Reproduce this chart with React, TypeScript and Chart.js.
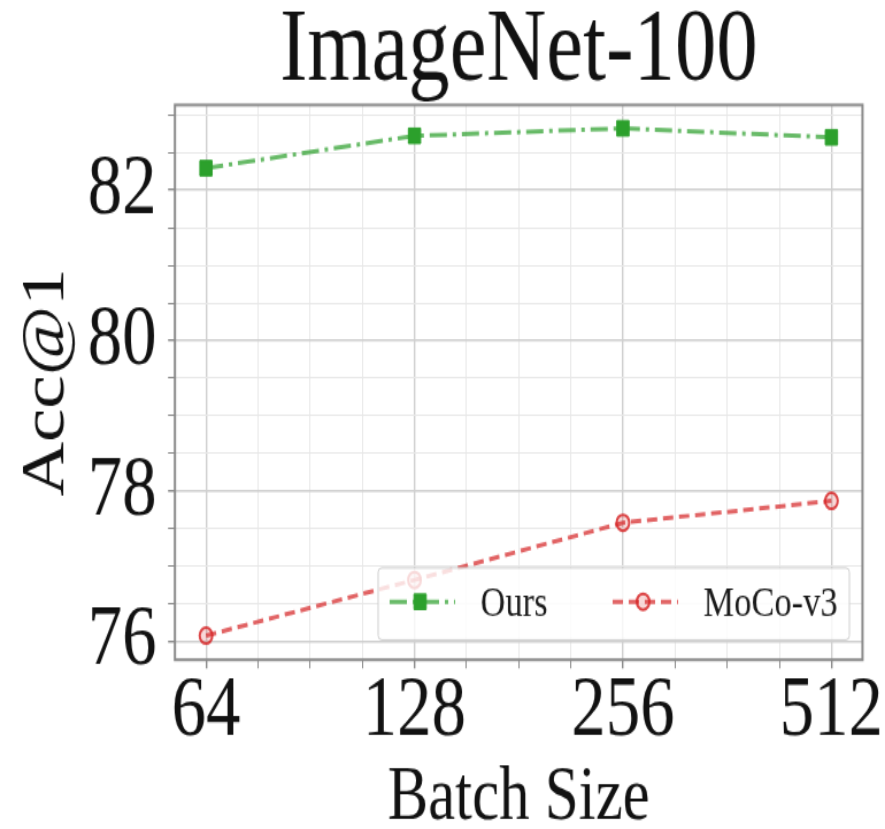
import React, { useEffect, useRef } from 'react';
import { Chart, registerables } from 'chart.js';

Chart.register(...registerables);

// ---- data ----
const batchSizes = [64, 128, 256, 512];
const oursAcc = [82.29, 82.72, 82.82, 82.7];
const mocoAcc = [76.08, 76.82, 77.58, 77.87];
const yMajorTicks = [76, 78, 80, 82];
const seriesLabels = ['Ours', 'MoCo-v3'];
const titleText = 'ImageNet-100';
const xTitleText = 'Batch Size';
const yTitleText = 'Acc@1';

// axis ranges (log2 of batch size on x)
const xMin = 5.851;
const xMax = 9.149;
const yMin = 75.76;
const yMax = 83.13;

// ---- layout (internal canvas, then stretched like the reference) ----
const W = 770;
const H = 572;
const SX = 885 / W;
const SY = 829 / H;
const FONT = '"Liberation Serif", "Times New Roman", serif';

const GREEN = '#2ca02c';
const GREEN_LINE = 'rgba(44,160,44,0.72)';
const RED = 'rgba(214,39,40,0.85)';
const RED_LINE = 'rgba(214,39,40,0.72)';
const RED_FILL = 'rgba(214,39,40,0.18)';
const GREEN_DASH = [15, 5, 3, 5];
const RED_DASH = [9, 5];

const framePlugin = {
  id: 'frame',
  beforeDatasetsDraw(chart: any) {
    const { ctx, chartArea: a } = chart;
    ctx.save();
    ctx.strokeStyle = '#8a8a8a';
    ctx.lineWidth = 2;
    ctx.strokeRect(a.left, a.top, a.right - a.left, a.bottom - a.top);
    ctx.restore();
  },
};

const legendPlugin = {
  id: 'insideLegend',
  afterDatasetsDraw(chart: any) {
    const { ctx, chartArea: a } = chart;
    const bw = 410;
    const bh = 49.5;
    const bx = a.right - 11.4 - bw;
    const by = a.bottom - 13.8 - bh;
    ctx.save();
    ctx.beginPath();
    const r = 3;
    ctx.moveTo(bx + r, by);
    ctx.arcTo(bx + bw, by, bx + bw, by + bh, r);
    ctx.arcTo(bx + bw, by + bh, bx, by + bh, r);
    ctx.arcTo(bx, by + bh, bx, by, r);
    ctx.arcTo(bx, by, bx + bw, by, r);
    ctx.closePath();
    ctx.fillStyle = 'rgba(255,255,255,0.8)';
    ctx.fill();
    ctx.strokeStyle = '#cfcfcf';
    ctx.lineWidth = 1;
    ctx.stroke();

    const cy = by + bh * 0.47;
    chart.data.datasets.forEach((ds: any, i: number) => {
      const x0 = bx + 10 + i * 194;
      const x1 = x0 + 57;
      ctx.save();
      ctx.strokeStyle = ds.borderColor;
      ctx.lineWidth = ds.borderWidth;
      ctx.setLineDash(ds.borderDash);
      ctx.beginPath();
      ctx.moveTo(x0, cy);
      ctx.lineTo(x1, cy);
      ctx.stroke();
      ctx.setLineDash([]);
      const mx = (x0 + x1) / 2 - 2;
      const pr = ds.pointRadius;
      ctx.fillStyle = ds.pointBackgroundColor;
      ctx.strokeStyle = ds.pointBorderColor;
      ctx.lineWidth = ds.pointBorderWidth;
      ctx.beginPath();
      if (ds.pointStyle === 'rect') {
        const s = pr * Math.SQRT1_2;
        ctx.rect(mx - s, cy - s, 2 * s, 2 * s);
      } else {
        ctx.arc(mx, cy, pr, 0, Math.PI * 2);
      }
      ctx.fill();
      ctx.stroke();
      ctx.restore();
      ctx.fillStyle = '#1a1a1a';
      ctx.font = `30px ${FONT}`;
      ctx.textBaseline = 'alphabetic';
      ctx.textAlign = 'left';
      ctx.fillText(ds.label, x1 + 22, cy + 9.8);
    });
    ctx.restore();
  },
};

export default function App() {
  const ref = useRef<HTMLCanvasElement>(null);

  useEffect(() => {
    document.body.style.margin = '0';
    const xs = batchSizes.map((b) => Math.log2(b));
    const chart = new Chart(ref.current as HTMLCanvasElement, {
      type: 'line',
      data: {
        datasets: [
          {
            label: seriesLabels[0],
            data: xs.map((x, i) => ({ x, y: oursAcc[i] })),
            borderColor: GREEN_LINE,
            borderWidth: 3,
            borderDash: GREEN_DASH,
            pointStyle: 'rect',
            pointRadius: 7.5,
            pointBackgroundColor: GREEN,
            pointBorderColor: GREEN,
            pointBorderWidth: 1,
            fill: false,
            tension: 0,
          },
          {
            label: seriesLabels[1],
            data: xs.map((x, i) => ({ x, y: mocoAcc[i] })),
            borderColor: RED_LINE,
            borderWidth: 3,
            borderDash: RED_DASH,
            pointStyle: 'circle',
            pointRadius: 5.5,
            pointBackgroundColor: RED_FILL,
            pointBorderColor: RED,
            pointBorderWidth: 2,
            fill: false,
            tension: 0,
          },
        ] as any,
      },
      options: {
        animation: false,
        responsive: true,
        maintainAspectRatio: false,
        events: [],
        layout: { padding: { left: 0, top: 0, bottom: 0, right: 19.6 } },
        plugins: {
          legend: { display: false },
          tooltip: { enabled: false },
          title: {
            display: true,
            text: titleText,
            fullSize: false,
            color: '#111',
            font: { family: FONT, size: 72, weight: 'normal', lineHeight: 1 },
            padding: { top: 0, bottom: 0.4 },
          },
        },
        scales: {
          x: {
            type: 'linear',
            min: xMin,
            max: xMax,
            afterFit: (s: any) => {
              s.height = 116.8;
            },
            afterBuildTicks: (s: any) => {
              const t: any[] = [];
              const lo = Math.log2(batchSizes[0]);
              const hi = Math.log2(batchSizes[batchSizes.length - 1]);
              for (let v = lo; v <= hi + 1e-9; v += 0.25) t.push({ value: v });
              s.ticks = t;
            },
            ticks: {
              autoSkip: false,
              maxRotation: 0,
              minRotation: 0,
              padding: 0.5,
              color: '#111',
              font: { family: FONT, size: 60, lineHeight: 1 },
              callback: (v: any) => (Number.isInteger(v) ? String(2 ** v) : ''),
            },
            grid: {
              drawTicks: true,
              tickLength: 6,
              tickColor: '#8a8a8a',
              color: (c: any) => (Number.isInteger(c.tick?.value) ? '#cfcfcf' : '#e8e8e8'),
              lineWidth: (c: any) => (Number.isInteger(c.tick?.value) ? 1.4 : 1),
            },
            border: { display: false },
            title: {
              display: true,
              text: xTitleText,
              color: '#111',
              font: { family: FONT, size: 53, lineHeight: 0.8 },
              padding: { top: 0, bottom: 0 },
            },
          },
          y: {
            type: 'linear',
            min: yMin,
            max: yMax,
            afterFit: (s: any) => {
              s.width = 152.2;
            },
            afterBuildTicks: (s: any) => {
              const t: any[] = [];
              for (let v = yMajorTicks[0]; v <= yMax + 1e-9; v += 0.5) t.push({ value: v });
              s.ticks = t;
            },
            ticks: {
              autoSkip: false,
              padding: 10,
              color: '#111',
              font: { family: FONT, size: 60, lineHeight: 1 },
              callback: (v: any) => (yMajorTicks.includes(v) ? String(v) : ''),
            },
            grid: {
              drawTicks: true,
              tickLength: 6,
              tickColor: '#8a8a8a',
              color: (c: any) => (yMajorTicks.includes(c.tick?.value) ? '#cfcfcf' : '#e8e8e8'),
              lineWidth: (c: any) => (yMajorTicks.includes(c.tick?.value) ? 1.4 : 1),
            },
            border: { display: false },
            title: {
              display: true,
              text: yTitleText,
              color: '#111',
              font: { family: FONT, size: 52, lineHeight: 1 },
              padding: { top: 15, bottom: 0 },
            },
          },
        },
      },
      plugins: [framePlugin, legendPlugin],
    });
    return () => chart.destroy();
  }, []);

  return (
    <div
      style={{
        position: 'fixed',
        left: 0,
        top: 0,
        width: 885,
        height: 829,
        overflow: 'hidden',
        background: '#fff',
      }}
    >
      <div
        style={{
          width: W,
          height: H,
          transform: `scale(${SX}, ${SY})`,
          transformOrigin: '0 0',
        }}
      >
        <canvas ref={ref} />
      </div>
    </div>
  );
}
